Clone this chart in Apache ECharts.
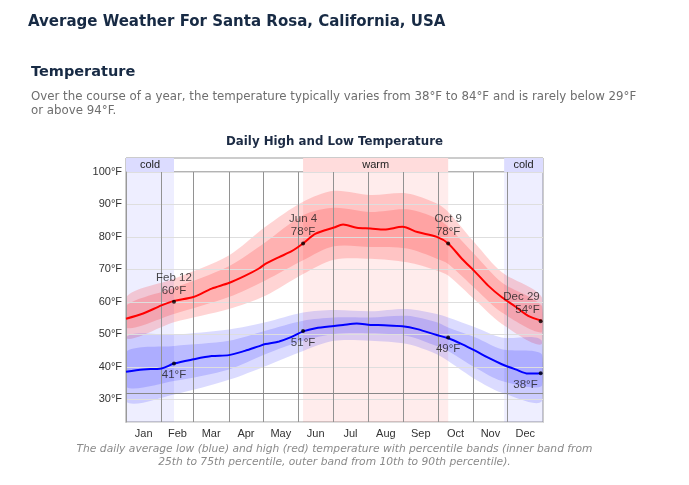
<!DOCTYPE html>
<html>
<head>
<meta charset="utf-8">
<script src="https://cdn.jsdelivr.net/npm/echarts@6/dist/echarts.min.js"></script>
<style>
    * { padding: 0; margin: 0 }
    body, html { height: 100%; width: 100%; background: #fff }
    #container { height: 485px; width: 689px }
</style>
</head>
<body>
<div id="container"></div>
<script>
    // month grid + labels (day of year)
    const monthNames = ['Jan', 'Feb', 'Mar', 'Apr', 'May', 'Jun', 'Jul', 'Aug', 'Sep', 'Oct', 'Nov', 'Dec'];
    const monthStarts = [0, 31, 59, 90, 120, 151, 181, 212, 243, 273, 304, 334, 365];

    // daily average high / low
    const lineDays = [0, 15, 31, 42, 59, 75, 90, 104, 116, 122, 134, 145, 155, 166, 182, 190, 202, 214, 226, 242, 255, 272, 282, 294, 306, 317, 329, 341, 352, 364];
    const highAvg = [54.8, 56.4, 58.9, 60.3, 61.5, 64.1, 65.8, 68.0, 70.2, 71.7, 73.8, 75.6, 78.0, 81.0, 82.9, 83.8, 82.8, 82.6, 82.3, 83.1, 81.5, 80.0, 78.0, 73.3, 69.1, 65.0, 61.4, 58.5, 55.7, 54.2];
    const lowAvg = [38.5, 39.2, 39.5, 41.0, 42.3, 43.3, 43.6, 44.9, 46.3, 47.0, 47.8, 49.2, 50.9, 51.9, 52.6, 52.9, 53.3, 52.9, 52.8, 52.5, 51.6, 49.8, 48.8, 47.0, 44.9, 42.8, 40.8, 39.2, 37.9, 38.0];

    // percentile bands
    const bandDays = [0, 42, 90, 122, 155, 182, 214, 246, 272, 282, 306, 329, 364];
    const highP90 = [61.4, 67.1, 74.3, 83.1, 90.8, 94.2, 92.9, 93.4, 90.3, 87.7, 77.9, 69.1, 61.4];
    const highP75 = [58.8, 64.3, 71.0, 78.4, 86.7, 89.0, 87.7, 88.5, 85.7, 83.1, 74.3, 66.0, 58.8];
    const highP25 = [51.9, 56.3, 61.5, 66.6, 72.8, 77.1, 76.9, 76.4, 73.3, 71.7, 64.0, 56.7, 50.6];
    const highP10 = [48.8, 53.7, 57.8, 61.9, 68.6, 73.0, 73.3, 72.2, 69.7, 68.1, 60.4, 53.2, 47.0];
    const lowP90 = [49.0, 49.9, 51.5, 53.7, 56.7, 57.5, 57.1, 57.8, 56.3, 55.2, 52.1, 49.0, 48.0];
    const lowP75 = [44.6, 46.4, 48.0, 51.1, 54.2, 55.2, 55.2, 55.7, 53.7, 52.1, 49.0, 45.4, 43.9];
    const lowP25 = [33.8, 35.6, 39.2, 43.9, 48.0, 50.1, 50.3, 49.5, 46.4, 44.9, 39.7, 35.6, 34.1];
    const lowP10 = [29.4, 31.5, 36.0, 40.2, 44.9, 48.0, 48.0, 47.0, 43.9, 41.8, 36.1, 32.0, 29.4];

    // annotated days
    const markNames = ['Feb 12', 'Jun 4', 'Oct 9', 'Dec 29'];
    const markDays = [42, 155, 282, 363];
    const markHigh = [60, 78, 78, 54];
    const markLow = [41, 51, 49, 38];

    // seasons
    const seasonNames = ['cold', 'warm', 'cold'];
    const seasonStart = [0, 155, 331];
    const seasonEnd = [42, 282, 365];

    const freezing = 32;

    const labelFont = 'Liberation Sans, Arial, sans-serif';
    const container = document.getElementById('container');
    let myChart = echarts.init(container);

    function band(days, lo, hi, fill) {
        return {
            type: 'custom',
            xAxisIndex: 0, yAxisIndex: 0,
            z: 2, silent: true,
            data: [[days[0], lo[0]]],
            renderItem: function (params, api) {
                const pts = [];
                for (let i = 0; i < days.length; i++) pts.push(api.coord([days[i], hi[i]]));
                for (let i = days.length - 1; i >= 0; i--) pts.push(api.coord([days[i], lo[i]]));
                const c0 = api.coord([0, 100]);
                const c1 = api.coord([365, 23]);
                return {
                    type: 'polygon',
                    shape: { points: pts, smooth: 0.3, smoothConstraint: [c0, c1] },
                    style: { fill: fill }
                };
            }
        };
    }

    function pairs(days, vals) {
        return days.map((d, i) => [d, vals[i]]);
    }

    const highMarks = markDays.map((d, i) => ({
        value: [d, markHigh[i]],
        label: {
            formatter: markNames[i] + '\n' + markHigh[i] + '°F',
            position: 'top',
            distance: 3,
            align: i === 3 ? 'right' : 'center',
            offset: i === 3 ? [-1, 0] : [0, 0]
        }
    }));
    const lowMarks = markDays.map((d, i) => ({
        value: [d, markLow[i]],
        label: {
            formatter: markLow[i] + '°F',
            position: 'bottom',
            distance: 3,
            align: i === 3 ? 'right' : 'center',
            offset: i === 3 ? [-3, 0] : [0, 0]
        }
    }));

    const option = {
        animation: false,
        textStyle: { fontFamily: labelFont },
        graphic: [
            { type: 'text', x: 28, y: 13, style: { text: 'Average Weather For Santa Rosa, California, USA', font: 'bold 16.7px "DejaVu Sans Condensed", "DejaVu Sans", sans-serif', fill: '#172a44' } },
            { type: 'text', x: 31, y: 65, style: { text: 'Temperature', font: 'bold 14.5px "DejaVu Sans", sans-serif', fill: '#172a44' } },
            { type: 'text', x: 31, y: 90, style: { text: 'Over the course of a year, the temperature typically varies from 38°F to 84°F and is rarely below 29°F\nor above 94°F.', font: '11.8px "DejaVu Sans", sans-serif', lineHeight: 14, fill: '#6e6e6e' } },
            { type: 'text', x: 334.5, y: 141.5, style: { text: 'Daily High and Low Temperature', font: 'bold 11.8px "DejaVu Sans", sans-serif', align: 'center', verticalAlign: 'middle', fill: '#1c2b44' } },
            { type: 'text', x: 334.5, y: 443, style: { text: 'The daily average low (blue) and high (red) temperature with percentile bands (inner band from\n25th to 75th percentile, outer band from 10th to 90th percentile).', font: 'italic 10.7px "DejaVu Sans", sans-serif', lineHeight: 13, align: 'center', verticalAlign: 'top', fill: '#8a8a8a' } }
        ],
        grid: [
            { left: 126, right: 146, top: 172, bottom: 63, show: true, borderColor: '#999', backgroundColor: 'transparent' },
            { left: 126, right: 146, top: 158, height: 14, show: true, borderColor: '#999', backgroundColor: 'transparent' }
        ],
        xAxis: [
            {
                type: 'value', gridIndex: 0, min: 0, max: 365,
                splitLine: { show: false },
                axisTick: { show: false },
                axisLine: { lineStyle: { color: '#999' } },
                axisLabel: {
                    customValues: monthStarts.slice(0, 12).map((s, i) => (s + monthStarts[i + 1]) / 2),
                    formatter: function (v) {
                        for (let i = 0; i < 12; i++) if (v >= monthStarts[i] && v < monthStarts[i + 1]) return monthNames[i];
                        return '';
                    },
                    color: '#333', fontSize: 11, margin: 6
                }
            },
            { type: 'value', gridIndex: 1, min: 0, max: 365, show: false }
        ],
        yAxis: [
            {
                type: 'value', gridIndex: 0, min: 23, max: 100, splitNumber: 8, z: 3,
                axisLine: { show: true, lineStyle: { color: '#999' } },
                axisTick: { show: false },
                splitLine: { lineStyle: { color: '#dedede' } },
                axisLabel: { showMinLabel: false, formatter: '{value}°F', color: '#333', fontSize: 11, margin: 4 }
            },
            { type: 'value', gridIndex: 1, min: 0, max: 1, show: false }
        ],
        series: [
            {
                // season background
                type: 'line', xAxisIndex: 0, yAxisIndex: 0, z: 1, silent: true,
                data: [], showSymbol: false,
                markArea: {
                    silent: true,
                    data: seasonNames.map((n, i) => [
                        { xAxis: seasonStart[i], itemStyle: { color: n === 'cold' ? 'rgba(40,40,255,0.08)' : 'rgba(255,40,40,0.09)' } },
                        { xAxis: seasonEnd[i] }
                    ])
                }
            },
            {
                // season strip
                type: 'line', xAxisIndex: 1, yAxisIndex: 1, z: 1, silent: true,
                data: [], showSymbol: false,
                markArea: {
                    silent: true,
                    label: { position: 'inside', color: '#222', fontSize: 11, fontFamily: labelFont },
                    data: seasonNames.map((n, i) => [
                        { name: n, xAxis: seasonStart[i], itemStyle: { color: n === 'cold' ? '#dcdcff' : '#ffdcdc' } },
                        { xAxis: seasonEnd[i] }
                    ])
                }
            },
            band(bandDays, highP10, highP90, 'rgba(255,0,0,0.17)'),
            band(bandDays, highP25, highP75, 'rgba(255,0,0,0.17)'),
            band(bandDays, lowP10, lowP90, 'rgba(0,0,255,0.14)'),
            band(bandDays, lowP25, lowP75, 'rgba(0,0,255,0.15)'),
            {
                // month lines + freezing line
                type: 'line', xAxisIndex: 0, yAxisIndex: 0, z: 3, silent: true,
                data: [], showSymbol: false,
                markLine: {
                    silent: true, symbol: ['none', 'none'], label: { show: false },
                    lineStyle: { color: '#929292', type: 'solid', width: 1 },
                    data: monthStarts.slice(1, 12).map(d => ({ xAxis: d }))
                        .concat([{ yAxis: freezing, lineStyle: { color: '#888', type: 'solid', width: 1 } }])
                }
            },
            {
                type: 'line', name: 'high', xAxisIndex: 0, yAxisIndex: 0, z: 5,
                data: pairs(lineDays, highAvg), smooth: 0.3, showSymbol: false,
                lineStyle: { color: '#ff0000', width: 2 }
            },
            {
                type: 'line', name: 'low', xAxisIndex: 0, yAxisIndex: 0, z: 5,
                data: pairs(lineDays, lowAvg), smooth: 0.3, showSymbol: false,
                lineStyle: { color: '#0000ff', width: 2 }
            },
            {
                type: 'scatter', xAxisIndex: 0, yAxisIndex: 0, z: 6, silent: true,
                symbolSize: 4, itemStyle: { color: '#000' },
                label: { show: true, color: '#1a1a1a', fontSize: 11.5, lineHeight: 13, fontFamily: labelFont },
                data: highMarks.concat(lowMarks)
            }
        ]
    };

    myChart.setOption(option);
</script>
</body>
</html>
